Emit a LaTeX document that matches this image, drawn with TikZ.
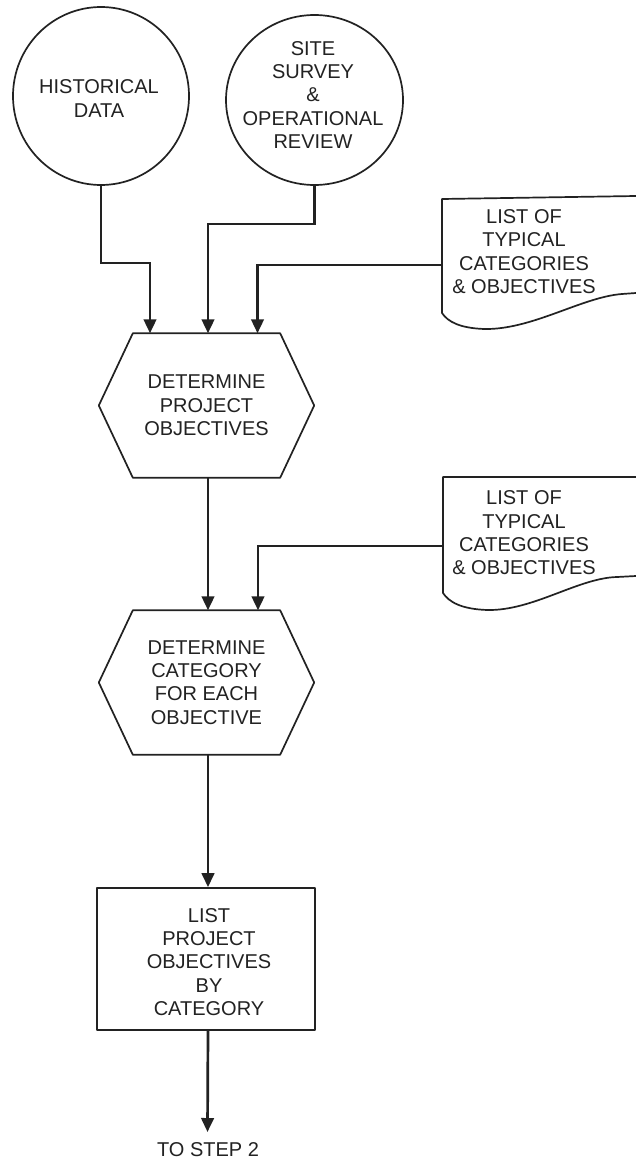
\documentclass[tikz,border=0pt]{standalone}
\usepackage{fontspec}
\setmainfont{Liberation Sans}
\usetikzlibrary{arrows.meta,shapes.geometric}
\definecolor{ink}{HTML}{222222}
\begin{document}
\begin{tikzpicture}[x=1pt,y=-1pt,
  every node/.style={text=ink,font=\fontsize{20}{23.3}\selectfont,align=center,inner sep=0pt},
  outline/.style={draw=ink,line width=1.7pt,line join=round},
  conn/.style={draw=ink,line width=2.7pt,-{Triangle[length=14pt,width=12.5pt]}},
  disc/.style={ellipse,outline},
  hexbox/.style={minimum width=215pt,minimum height=144pt},
  listbox/.style={rectangle,outline,minimum width=218pt,minimum height=142pt},
  docarea/.style={minimum width=194pt,minimum height=116pt},
]
\useasboundingbox (0,0) rectangle (636,1164);
\fill[white] (0,0) rectangle (636,1164);

% input sources
\node[disc,minimum width=176pt,minimum height=178pt] (hist) at (101,96) {};
\node (histtxt) at (99,98.5) {HISTORICAL\\DATA};
\node[disc,minimum width=177pt,minimum height=170pt] (site) at (314.5,100) {};
\node (sitetxt) at (313,95) {SITE\\SURVEY\\\&\\OPERATIONAL\\REVIEW};

% reference documents (open on the right)
\node[docarea] (docA) at (539,256) {};
\node (docAtxt) at (524,251.5) {LIST OF\\TYPICAL\\CATEGORIES\\\& OBJECTIVES};
\begin{scope}[shift={(442,199)}]
  \draw[outline] (194,-3) -- (0,0) -- (0,114)
    .. controls (6,123) and (18,129) .. (42,130)
    .. controls (90,131) and (140,98) .. (180,95) -- (194,94);
\end{scope}
\node[docarea] (docB) at (539.5,535) {};
\node (docBtxt) at (524,533) {LIST OF\\TYPICAL\\CATEGORIES\\\& OBJECTIVES};
\begin{scope}[shift={(443,477)}]
  \draw[outline] (193,0) -- (0,0) -- (0,116)
    .. controls (6,125) and (18,132) .. (44,133)
    .. controls (90,134) and (135,101) .. (174,100) -- (193,99);
\end{scope}

% process steps
\node[hexbox] (detA) at (206.5,405.5) {DETERMINE\\PROJECT\\OBJECTIVES};
\draw[outline] ([xshift=34pt]detA.north west) -- ([xshift=-34pt]detA.north east)
  -- (detA.east) -- ([xshift=-34pt]detA.south east)
  -- ([xshift=34pt]detA.south west) -- (detA.west) -- cycle;

\node[hexbox] (detB) at (206.5,682.5) {DETERMINE\\CATEGORY\\FOR EACH\\OBJECTIVE};
\draw[outline] ([xshift=34pt]detB.north west) -- ([xshift=-34pt]detB.north east)
  -- (detB.east) -- ([xshift=-34pt]detB.south east)
  -- ([xshift=34pt]detB.south west) -- (detB.west) -- cycle;

\node[listbox] (list) at (206,959) {};
\node (listtxt) at (209,962) {LIST\\PROJECT\\OBJECTIVES\\BY\\CATEGORY};

\node (next) at (208,1150) {TO STEP 2};
\coordinate (nextin) at (207.5,1132);

% connectors
\draw[conn] (hist.south) -- ++(0,77) -| ([xshift=-56.5pt]detA.north);
\draw[conn] (site.south) -- ++(0,38) -| ([xshift=1.5pt]detA.north);
\draw[conn] ([yshift=-9pt]docA.west) -| ([xshift=51pt]detA.north);
\draw[conn] ([xshift=1.5pt]detA.south) -- ([xshift=1.5pt]detB.north);
\draw[conn] ([yshift=-11pt]docB.west) -| ([xshift=51.5pt]detB.north);
\draw[conn] ([xshift=1.5pt]detB.south) -- ([xshift=2pt]list.north);
\draw[conn] ([xshift=2pt]list.south) -- (nextin);
\end{tikzpicture}
\end{document}
